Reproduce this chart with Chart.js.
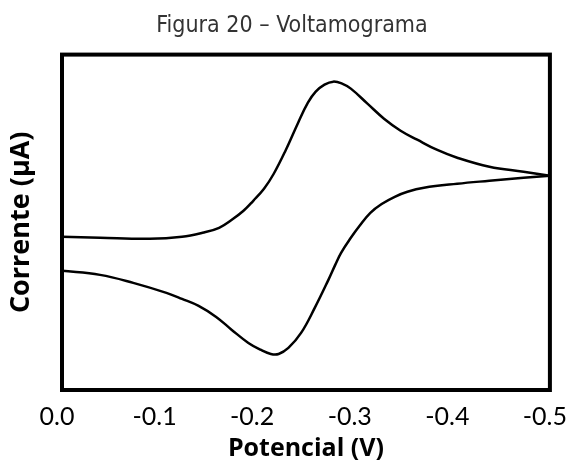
<!DOCTYPE html>
<html>
<head>
<meta charset="utf-8">
<script src="https://cdn.jsdelivr.net/npm/chart.js@4"></script>
<style>
  body { margin: 0; background: #fff; }
</style>
</head>
<body>
<canvas id="voltamograma" width="584" height="465"></canvas>
<script>
// varredura de ida (0.0 -> -0.5 V)
var potencialIda = [0, -0.039, -0.090, -0.123, -0.144, -0.161, -0.174, -0.186, -0.196, -0.207, -0.217, -0.229, -0.242, -0.252, -0.260, -0.269, -0.278, -0.287, -0.296, -0.313, -0.330, -0.347, -0.364, -0.384, -0.405, -0.438, -0.473, -0.500];
var correnteIda = [15.3, 15.2, 15.1, 15.3, 15.7, 16.2, 17.0, 17.9, 18.9, 20.1, 21.6, 23.9, 26.7, 28.7, 29.8, 30.5, 30.8, 30.6, 30.1, 28.6, 27.1, 25.9, 25.0, 24.0, 23.2, 22.3, 21.8, 21.4];

// varredura de volta (-0.5 -> 0.0 V)
var potencialVolta = [-0.500, -0.473, -0.438, -0.405, -0.371, -0.354, -0.341, -0.328, -0.316, -0.305, -0.296, -0.286, -0.280, -0.273, -0.259, -0.245, -0.232, -0.222, -0.214, -0.204, -0.191, -0.174, -0.158, -0.140, -0.123, -0.107, -0.073, -0.039, 0];
var correnteVolta = [21.4, 21.2, 20.9, 20.6, 20.2, 19.8, 19.3, 18.6, 17.7, 16.4, 15.2, 13.7, 12.5, 11.0, 8.2, 5.7, 4.2, 3.6, 3.6, 4.0, 4.7, 6.0, 7.3, 8.4, 9.1, 9.7, 10.7, 11.5, 11.9];

var eixoX = { min: -0.5, max: 0, passo: 0.1 };
var eixoY = { min: 0, max: 33.5 };

function pares(xs, ys){
	return xs.map(function(x, i) {
		return { x: x, y: ys[i] };
	});
}

// moldura preta em volta da area do grafico
var moldura = {
	id: 'moldura',
	afterDraw: function(chart){
		var a = chart.chartArea, ctx = chart.ctx;
		ctx.save();
		ctx.strokeStyle = '#000';
		ctx.lineWidth = 4;
		ctx.lineJoin = 'miter';
		ctx.strokeRect(a.left, a.top, a.right - a.left, a.bottom - a.top);
		ctx.restore();
	}
};

function serie(xs, ys){
	return {
		data: pares(xs, ys),
		borderColor: '#000',
		borderWidth: 2.5,
		pointRadius: 0,
		tension: 0.4,
		fill: false
	};
}

new Chart(document.getElementById("voltamograma"), {
	type: 'line',
	data: {
		datasets: [
			serie(potencialIda, correnteIda),
			serie(potencialVolta, correnteVolta)
		]
	},
	options: {
		responsive: false,
		animation: false,
		layout: { padding: 0 },
		plugins: {
			legend: { display: false },
			tooltip: { enabled: false },
			title: {
				display: true,
				text: 'Figura 20 – Voltamograma',
				color: '#333',
				font: { family: "'DejaVu Sans Condensed', 'Liberation Sans Narrow', sans-serif", size: 23, weight: 'normal' },
				padding: { top: 12, bottom: 15 }
			}
		},
		scales: {
			x: {
				type: 'linear',
				reverse: true,
				min: eixoX.min,
				max: eixoX.max,
				grid: { display: false, drawTicks: false },
				border: { display: false },
				ticks: {
					stepSize: eixoX.passo,
					padding: 12,
					labelOffset: -5,
					color: '#000',
					font: { family: 'Lato', size: 25 },
					callback: function(v) { return v.toFixed(1); }
				},
				title: {
					display: true,
					text: 'Potencial (V)',
					color: '#000',
					font: { family: "'Open Sans'", size: 25, weight: 'bold' },
					padding: { top: 2, bottom: 1 }
				},
				afterFit: function(s) { s.height = 75; }
			},
			y: {
				min: eixoY.min,
				max: eixoY.max,
				grid: { display: false, drawTicks: false },
				border: { display: false },
				ticks: { display: false },
				title: {
					display: true,
					text: 'Corrente (μA)',
					color: '#000',
					font: { family: "'Open Sans'", size: 27, weight: 'bold' },
					padding: { top: 5, bottom: 4 }
				},
				afterFit: function(s) { s.width = 62; }
			},
			// eixo vazio so para reservar a margem direita
			y2: {
				position: 'right',
				min: eixoY.min,
				max: eixoY.max,
				grid: { display: false, drawTicks: false },
				border: { display: false },
				ticks: { display: false },
				afterFit: function(s) { s.width = 30; }
			}
		}
	},
	plugins: [moldura]
});
</script>
</body>
</html>
